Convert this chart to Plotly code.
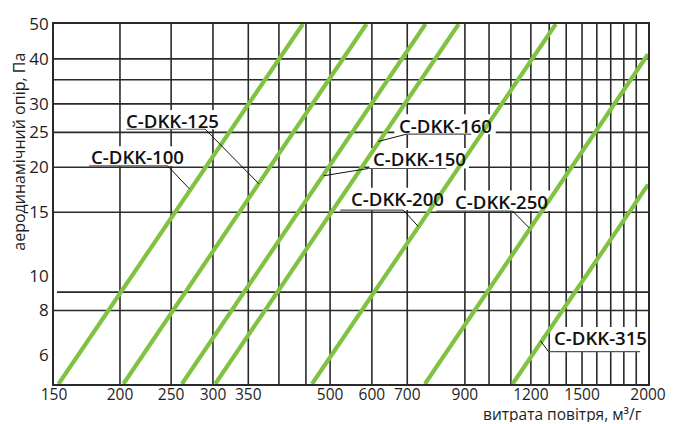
import math
import plotly.graph_objects as go

# ---------------- data ----------------
series_names = ["C-DKK-100", "C-DKK-125", "C-DKK-150", "C-DKK-160",
                "C-DKK-200", "C-DKK-250", "C-DKK-315"]
flow_start = [153, 203, 262, 303, 462, 756, 1108]     # m3/h at lower end
flow_end = [444, 586, 758, 876, 1338, 2000, 2000]      # m3/h at upper end
dp_start = [5, 5, 5, 5, 5, 5, 5]                       # Pa
dp_end = [50, 50, 50, 50, 50, 41.2, 17.9]              # Pa

x_tick_vals = [150, 200, 250, 300, 350, 500, 600, 700, 900, 1200, 1500, 2000]
y_tick_vals = [6, 8, 10, 15, 20, 25, 30, 40, 50]
x_grid_vals = [200, 250, 300, 350, 400, 450, 500, 600, 700, 900, 1000, 1100,
               1200, 1300, 1400, 1500, 1600, 1700, 1800, 1900]
y_grid_vals = [8, 9, 15, 20, 25, 30, 35, 40]

x_title = "витрата повітря, м³/г"
y_title = "аеродинамічний опір, Па"

# ---------------- layout constants ----------------
W, H = 678, 424
L, R, T, B = 54, 651, 17, 384   # plot area in px
GREEN = "#80C342"
GRID = "#2a2a2a"
TXT = "#1e1e1e"


def px(xp):
    return (xp - L) / (R - L)


def py(yp):
    return (B - yp) / (B - T)


fig = go.Figure()

for name, q0, q1, p0, p1 in zip(series_names, flow_start, flow_end, dp_start, dp_end):
    fig.add_trace(go.Scatter(x=[q0, q1], y=[p0, p1], mode="lines", name=name,
                             line=dict(color=GREEN, width=4.2), showlegend=False,
                             hoverinfo="name"))

shapes = []
for v in x_grid_vals:
    shapes.append(dict(type="line", xref="x", yref="paper", x0=v, x1=v, y0=0, y1=1,
                       line=dict(color=GRID, width=1.6), layer="below"))
for v in y_grid_vals:
    shapes.append(dict(type="line", xref="paper", yref="y", x0=0.005 if v == 9 else 0,
                       x1=1, y0=v, y1=v, line=dict(color=GRID, width=1.6), layer="below"))

# label placements (px in window): text centre, text extents, underline, leader end
labels = [
    # name, cx, cy, left, right, ul_y, ul_x0, ul_x1, lead_from, lead_to
    ("C-DKK-100", 138, 152.5, 90, 186, 161.7, 89.3, 168.3, (168.3, 161.7), (190, 185)),
    ("C-DKK-125", 173, 115.7, 126, 220, 124.3, 126.7, 206, (206, 124.3), (260, 180)),
    ("C-DKK-150", 421.3, 154.3, 374, 468, 164.3, 370, 448.3, (370, 164.3), (325, 171.7)),
    ("C-DKK-160", 447, 120, 399, 495, 129.3, 408.3, 473.3, (408.3, 129.3), (380, 136.7)),
    ("C-DKK-200", 399, 195, 349, 448, 206.7, 341.7, 405, (405, 206.7), (420, 223.3)),
    ("C-DKK-250", 504, 197.7, 455, 553, 207.7, 438.3, 515, (515, 207.7), (531.7, 225)),
    ("C-DKK-315", 603.5, 337, 556, 651, 351, 551, 643, (551, 351), (543, 340)),
]

annotations = []
for (name, cx, cy, lx, rx, uly, ux0, ux1, lf, lt) in labels:
    shapes.append(dict(type="rect", xref="paper", yref="paper",
                       x0=px(lx - 3), x1=px(min(rx + 3, R - 1)),
                       y0=py(uly), y1=py(cy - 11),
                       fillcolor="white", line=dict(width=0), layer="below"))
    shapes.append(dict(type="line", xref="paper", yref="paper",
                       x0=px(ux0), x1=px(ux1), y0=py(uly), y1=py(uly),
                       line=dict(color="#555", width=1.2), layer="above"))
    shapes.append(dict(type="line", xref="paper", yref="paper",
                       x0=px(lf[0]), x1=px(lt[0]), y0=py(lf[1]), y1=py(lt[1]),
                       line=dict(color="#111", width=1), layer="above"))
    annotations.append(dict(text=name, xref="paper", yref="paper", x=px(cx), y=py(cy),
                            xanchor="center", yanchor="middle", showarrow=False,
                            font=dict(family="Open Sans", size=18.6, color="#111", weight=600)))

annotations.append(dict(text=y_title, xref="paper", yref="paper", x=px(18), y=py(147),
                        textangle=-90, xanchor="center", yanchor="middle", showarrow=False,
                        font=dict(family="Open Sans", size=16, color=TXT)))
annotations.append(dict(text=x_title, xref="paper", yref="paper", x=px(646), y=py(424),
                        xanchor="right", yanchor="bottom", showarrow=False,
                        height=17, borderpad=0, valign="middle",
                        font=dict(family="Open Sans", size=15.5, color=TXT)))

fig.update_layout(
    width=W, height=H,
    margin=dict(l=L, r=W - R, t=T, b=H - B, pad=0),
    plot_bgcolor="white", paper_bgcolor="white",
    shapes=shapes, annotations=annotations,
    xaxis=dict(type="log", range=[math.log10(150), math.log10(2000)],
               tickvals=x_tick_vals, ticktext=[str(v) for v in x_tick_vals],
               showgrid=False, zeroline=False, showline=True, mirror=True,
               linecolor=GRID, linewidth=1.8, ticks="", ticklabelstandoff=-5,
               tickfont=dict(family="Open Sans", size=15.5, color=TXT)),
    yaxis=dict(type="log", range=[math.log10(5), math.log10(50)],
               tickvals=y_tick_vals, ticktext=[str(v) for v in y_tick_vals],
               showgrid=False, zeroline=False, showline=True, mirror=True,
               linecolor=GRID, linewidth=1.8, ticks="",
               tickfont=dict(family="Open Sans", size=17, color=TXT)),
)

fig.write_html("out.html", config={"displayModeBar": False},
               post_script="document.body.style.margin='0';document.body.style.overflow='hidden';")
